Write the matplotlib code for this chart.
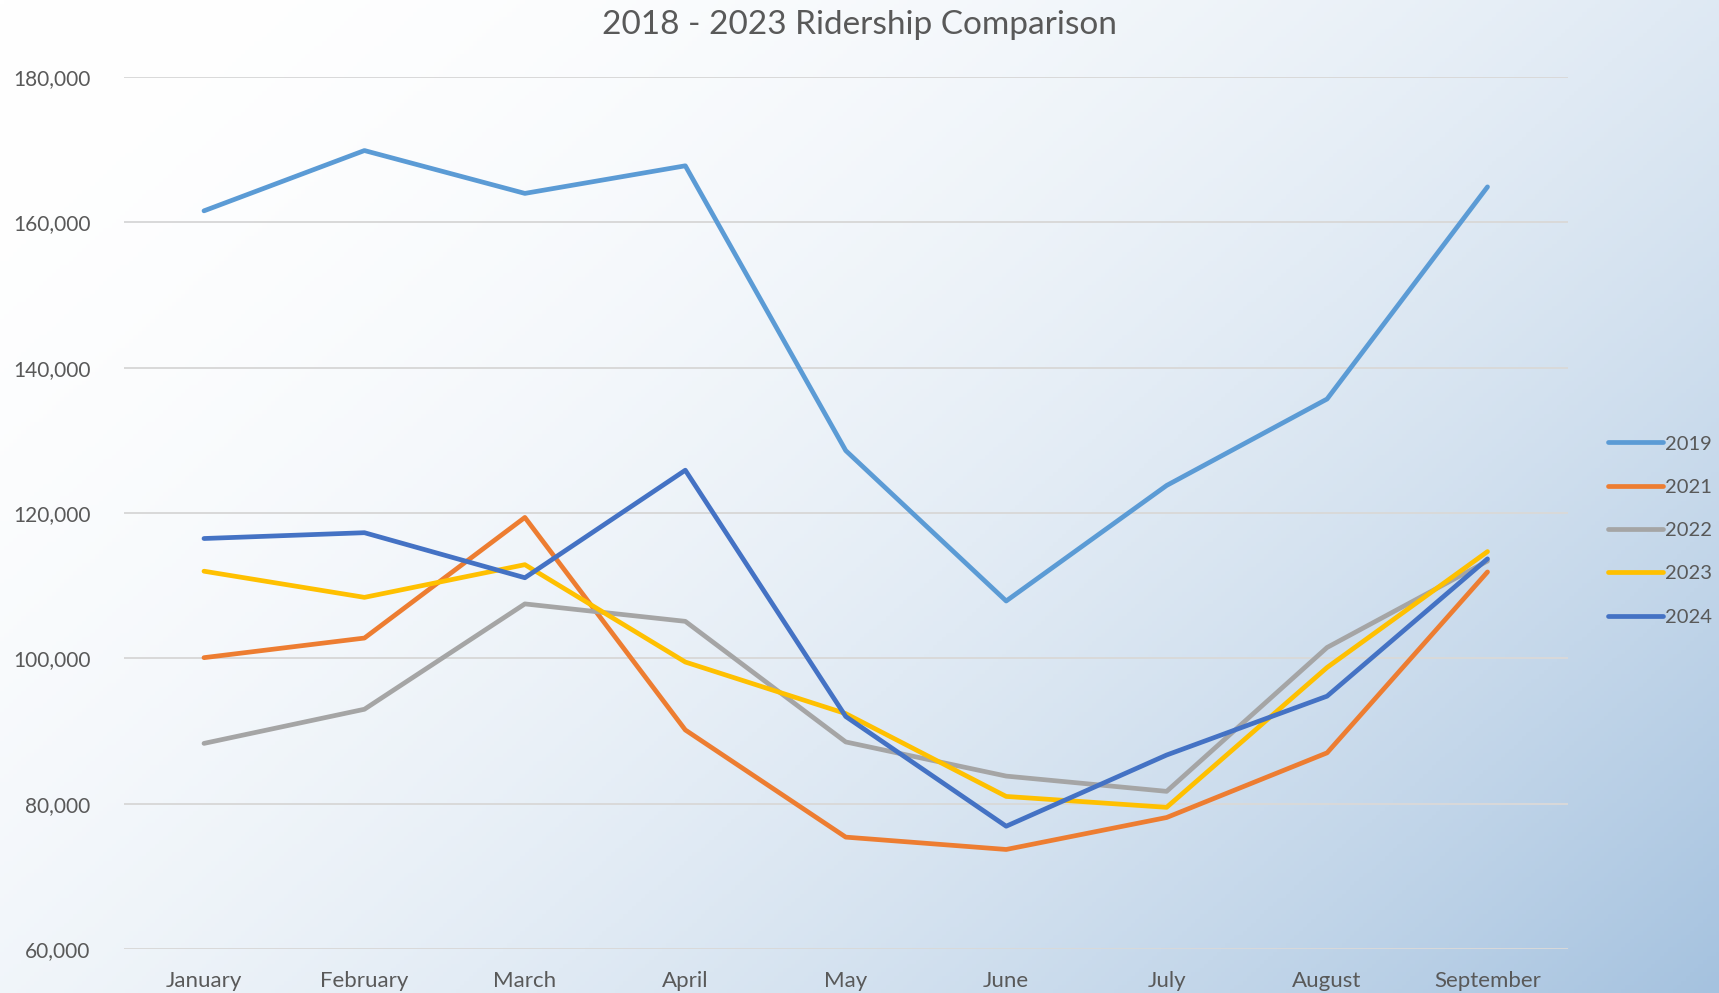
import matplotlib.pyplot as plt
import numpy as np
from matplotlib.ticker import FuncFormatter

months = ['January', 'February', 'March', 'April', 'May', 'June', 'July', 'August', 'September']
years = ['2019', '2021', '2022', '2023', '2024']
r2019 = [161600, 169900, 164000, 167800, 128600, 107900, 123800, 135700, 164900]
r2021 = [100100, 102800, 119400, 90150, 75400, 73700, 78100, 87000, 111900]
r2022 = [88300, 93000, 107500, 105100, 88500, 83800, 81700, 101500, 113400]
r2023 = [112000, 108400, 112900, 99500, 92400, 81000, 79500, 98750, 114700]
r2024 = [116500, 117300, 111100, 125900, 92000, 76900, 86700, 94800, 113700]
colors = ['#5b9bd5', '#ed7d31', '#a5a5a5', '#ffc000', '#4472c4']

plt.rcParams['font.family'] = ['Lato', 'DejaVu Sans']

fig = plt.figure(figsize=(17.19, 9.93), dpi=100)

# background gradient: white top-left to light blue bottom-right
bg = fig.add_axes([0, 0, 1, 1], zorder=-1)
xx, yy = np.meshgrid(np.linspace(0, 1, 400), np.linspace(0, 1, 240))
t = np.clip((xx * 0.6 + yy * 0.4), 0, 1) ** 2.0
c0 = np.array([1.0, 1.0, 1.0])
c1 = np.array([165, 194, 223]) / 255
img = c0 + (c1 - c0) * t[..., None]
bg.imshow(img, aspect='auto', extent=[0, 1, 0, 1], origin='upper')
bg.axis('off')

ax = fig.add_axes([0.072, 0.0443, 0.84, 0.878])
ax.patch.set_alpha(0)
x = np.arange(len(months))
for vals, lab, c in zip([r2019, r2021, r2022, r2023, r2024], years, colors):
    ax.plot(x, vals, color=c, lw=3.4, label=lab, solid_capstyle='round', solid_joinstyle='round')

ax.set_xlim(-0.5, len(months) - 0.5)
ax.set_ylim(60000, 180000)
ax.set_yticks(range(60000, 180001, 20000))
ax.yaxis.set_major_formatter(FuncFormatter(lambda v, p: f'{int(v):,}'))
ax.set_xticks(x)
ax.set_xticklabels(months)
ax.grid(axis='y', color='#d9d9d9', lw=1.4)
ax.set_axisbelow(True)
for s in ax.spines.values():
    s.set_visible(False)
ax.tick_params(axis='x', length=0, labelsize=16, colors='#595959', pad=16)
ax.tick_params(axis='y', length=0, labelsize=15, colors='#595959', pad=24)

fig.text(0.5, 0.975, '2018 - 2023 Ridership Comparison', ha='center', va='center',
         fontsize=24, color='#595959')

leg = ax.legend(loc='center left', bbox_to_anchor=(1.015, 0.48), frameon=False,
                fontsize=14.5, labelcolor='#595959', handlelength=2.75, handletextpad=0.1,
                labelspacing=1.3)

plt.savefig('out.png', dpi=100)
